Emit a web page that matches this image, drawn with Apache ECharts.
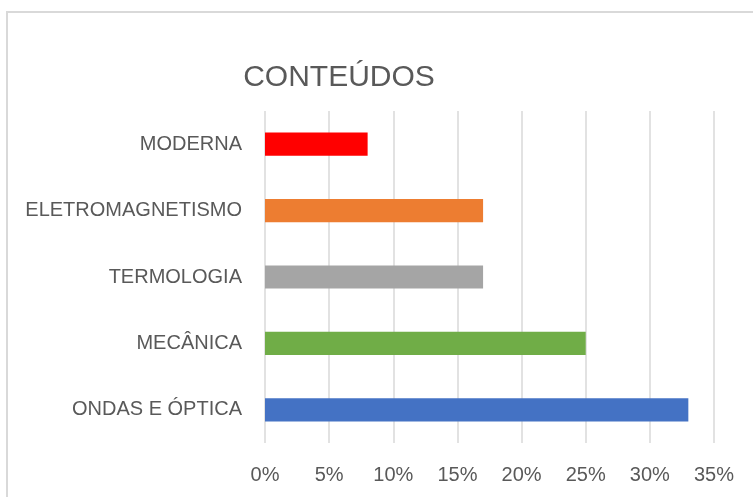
<!DOCTYPE html>
<html>
<head>
<meta charset="utf-8">
<script src="https://cdn.jsdelivr.net/npm/echarts@6/dist/echarts.min.js"></script>
<style>
  html, body { margin: 0; padding: 0; background: #fff; }
  #chart { width: 753px; height: 497px; }
</style>
</head>
<body>
<div id="chart"></div>
<script>
const categories = ["ONDAS E ÓPTICA", "MECÂNICA", "TERMOLOGIA", "ELETROMAGNETISMO", "MODERNA"];
const values = [33, 25, 17, 17, 8];
const barColors = ["#4472c4", "#70ad47", "#a5a5a5", "#ed7d31", "#ff0000"];
const tickMax = 35;

const textColor = "#595959";
const font = "Liberation Sans";

const myChart = echarts.init(document.getElementById("chart"));
option = {
  animation: false,
  graphic: [
    {
      type: "rect",
      shape: { x: 7, y: 12, width: 800, height: 600 },
      style: { fill: "none", stroke: "#d9d9d9", lineWidth: 2 },
      silent: true
    }
  ],
  title: {
    text: "CONTEÚDOS",
    left: 334,
    textAlign: "center",
    top: 58,
    textStyle: {
      color: textColor,
      fontFamily: font,
      fontWeight: "normal",
      fontSize: 30
    }
  },
  grid: {
    left: 265,
    right: 39,
    top: 111,
    bottom: 54
  },
  xAxis: {
    type: "value",
    min: 0,
    max: tickMax,
    interval: 5,
    axisLine: { show: false },
    axisTick: { show: false },
    axisLabel: {
      formatter: "{value}%",
      color: textColor,
      fontFamily: font,
      fontSize: 20,
      margin: 22
    },
    splitLine: { lineStyle: { color: "#d9d9d9", width: 1.5 } }
  },
  yAxis: {
    type: "category",
    data: categories,
    axisLine: { show: false },
    axisTick: { show: false },
    axisLabel: {
      color: textColor,
      fontFamily: font,
      fontSize: 20,
      margin: 23
    }
  },
  series: [
    {
      type: "bar",
      barWidth: "35%",
      data: values.map((v, i) => ({ value: v, itemStyle: { color: barColors[i] } }))
    }
  ]
};
myChart.setOption(option);
</script>
</body>
</html>
